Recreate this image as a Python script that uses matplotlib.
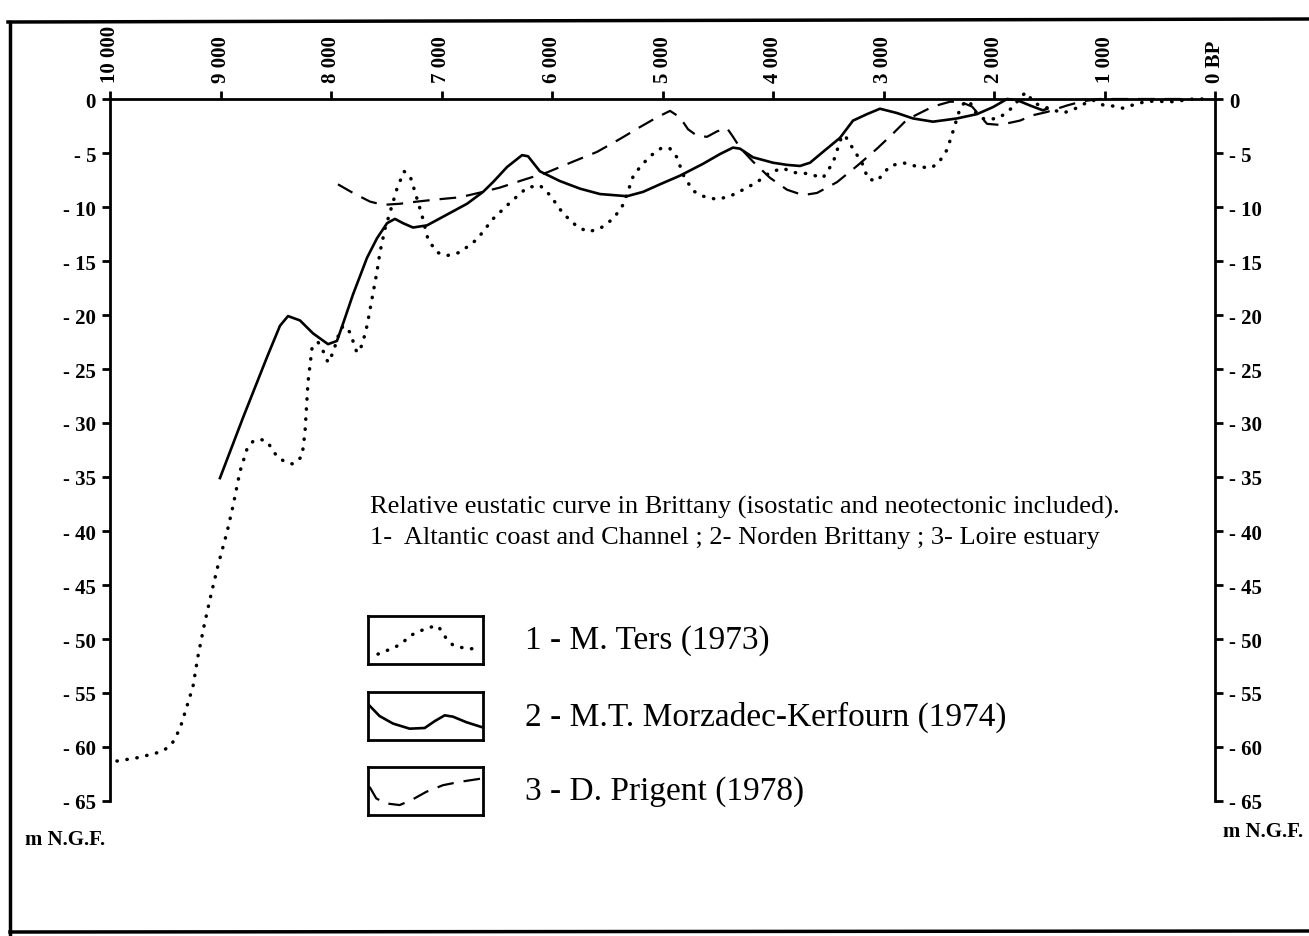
import matplotlib.pyplot as plt
from matplotlib.lines import Line2D

# ---- data : age (years BP) / level (m N.G.F.) ----
ters_age = [9937, 9756, 9593, 9511, 9439, 9367, 9303, 9249, 9204, 9149, 9095, 9023,
            8941, 8887, 8824, 8760, 8706, 8643, 8579, 8489, 8416, 8344, 8262, 8235,
            8208, 8172, 8118, 8063, 8027, 7982, 7937, 7891, 7828, 7765, 7719, 7674,
            7629, 7584, 7557, 7511, 7466, 7403, 7339, 7285, 7240, 7176, 7122, 7041,
            6950, 6833, 6679, 6534, 6380, 6226, 6109, 6018, 5900, 5774, 5674, 5566,
            5448, 5367, 5321, 5267, 5204, 5113, 5005, 4932, 4869, 4814, 4724, 4633,
            4507, 4389, 4271, 4145, 4027, 3910, 3819, 3692, 3548, 3457, 3412, 3376,
            3348, 3276, 3195, 3140, 3059, 2941, 2824, 2715, 2579, 2507, 2425, 2371,
            2335, 2308, 2262, 2217, 2190, 2109, 2036, 1946, 1828, 1747, 1701, 1647,
            1584, 1466, 1376, 1285, 1195, 1104, 1014, 923, 833, 742, 615, 380, 199, 45]
ters_level = [-61.3, -61.0, -60.6, -60.3, -59.7, -58.3, -56.2, -54.4, -51.6, -48.8, -46.3, -43.2,
              -40.1, -37.7, -34.5, -32.4, -31.7, -31.5, -31.7, -33.1, -33.6, -33.8, -33.1, -30.8,
              -26.2, -23.1, -22.5, -23.5, -24.4, -23.5, -22.0, -21.0, -21.6, -23.5, -22.8, -21.0,
              -18.5, -16.0, -14.2, -12.0, -10.5, -8.3, -6.7, -7.1, -8.6, -10.8, -13.0, -14.2,
              -14.5, -14.2, -13.0, -11.1, -9.6, -8.2, -8.0, -8.9, -10.6, -11.8, -12.3, -12.0,
              -11.1, -10.0, -8.8, -7.2, -6.3, -5.3, -4.5, -4.6, -5.4, -7.0, -8.5, -9.0,
              -9.3, -9.0, -8.4, -7.7, -6.8, -6.4, -6.8, -6.9, -7.3, -5.9, -4.5, -3.4,
              -3.4, -4.6, -5.9, -7.4, -7.6, -6.2, -5.9, -6.2, -6.4, -6.0, -4.7, -3.0,
              -1.8, -0.9, -0.25, -0.25, -1.0, -1.8, -1.9, -1.7, -0.75, 0.35, 0.6, -0.3,
              -0.6, -1.0, -1.3, -1.0, -0.5, -0.1, -0.55, -0.65, -0.85, -0.55, -0.2, -0.25, 0.0, 0.0]

morz_age = [9005, 8796, 8579, 8462, 8389, 8281, 8163, 8027, 7946, 7891, 7801, 7674,
            7584, 7493, 7421, 7348, 7258, 7131, 6950, 6769, 6624, 6534, 6407, 6271,
            6217, 6109, 5928, 5747, 5566, 5321, 5176, 5023, 4842, 4633, 4480, 4362,
            4299, 4181, 4000, 3873, 3756, 3665, 3548, 3394, 3276, 3149, 3032, 2878,
            2733, 2552, 2335, 2154, 2009, 1882, 1792, 1674, 1557, 1520]
morz_level = [-35.1, -29.5, -23.9, -21.0, -20.1, -20.5, -21.7, -22.7, -22.4, -20.8, -18.1, -14.7,
              -12.9, -11.5, -11.1, -11.5, -11.9, -11.7, -10.7, -9.7, -8.6, -7.7, -6.3, -5.2,
              -5.3, -6.7, -7.6, -8.3, -8.8, -9.0, -8.6, -7.9, -7.1, -6.0, -5.1, -4.5,
              -4.6, -5.4, -5.9, -6.1, -6.2, -5.9, -4.9, -3.6, -2.0, -1.4, -0.9, -1.3,
              -1.8, -2.1, -1.8, -1.4, -0.75, 0.0, -0.1, -0.6, -1.05, -0.9]

prig_age = [7937, 7801, 7647, 7529, 7376, 7222, 7041, 6833, 6624, 6471, 6262, 6045,
            5810, 5593, 5385, 5204, 5050, 4932, 4842, 4769, 4688, 4597, 4507, 4416,
            4362, 4299, 4181, 4027, 3873, 3729, 3602, 3421, 3240, 3059, 2914, 2787,
            2670, 2552, 2398, 2308, 2199, 2063, 1946, 1765, 1647, 1520, 1339, 1195,
            1041, 860, 588, 226]
prig_level = [-7.9, -8.7, -9.5, -9.8, -9.7, -9.5, -9.3, -9.1, -8.6, -8.2, -7.5, -6.8,
              -5.8, -4.9, -3.7, -2.6, -1.7, -1.1, -1.7, -2.8, -3.4, -3.5, -3.0, -2.7,
              -3.5, -4.5, -5.8, -7.3, -8.4, -8.9, -8.7, -7.7, -6.2, -4.6, -3.2, -1.9,
              -1.3, -0.7, -0.25, -0.25, -0.7, -2.3, -2.4, -2.0, -1.5, -1.2, -0.6, -0.2,
              0.0, 0.0, 0.0, 0.0]

# small sketches drawn inside the legend boxes (box units 0..1)
icon_ters_x = [0.087, 0.159, 0.232, 0.304, 0.362, 0.443, 0.522, 0.609, 0.681, 0.739, 0.812, 0.884, 0.957]
icon_ters_y = [0.207, 0.276, 0.345, 0.448, 0.586, 0.676, 0.759, 0.793, 0.531, 0.393, 0.345, 0.310, 0.345]
icon_morz_x = [0.014, 0.10, 0.217, 0.362, 0.493, 0.58, 0.667, 0.739, 0.855, 0.986]
icon_morz_y = [0.714, 0.50, 0.343, 0.236, 0.25, 0.393, 0.514, 0.486, 0.371, 0.271]
icon_prig_x = [0.014, 0.072, 0.159, 0.275, 0.377, 0.507, 0.652, 0.797, 0.986]
icon_prig_y = [0.586, 0.345, 0.241, 0.207, 0.310, 0.483, 0.621, 0.690, 0.759]

x_ticks = [10000, 9000, 8000, 7000, 6000, 5000, 4000, 3000, 2000, 1000, 0]
x_labels = ["10 000", "9 000", "8 000", "7 000", "6 000", "5 000",
            "4 000", "3 000", "2 000", "1 000", "0 BP"]
y_ticks = list(range(0, -70, -5))
y_labels = ["0" if v == 0 else "- %d" % abs(v) for v in y_ticks]

legend_labels = ["1 - M. Ters (1973)", "2 - M.T. Morzadec-Kerfourn (1974)", "3 - D. Prigent (1978)"]
title_lines = ["Relative eustatic curve in Brittany (isostatic and neotectonic included).",
               "1-  Altantic coast and Channel ; 2- Norden Brittany ; 3- Loire estuary"]

plt.rcParams['font.family'] = ['Liberation Serif', 'DejaVu Serif']

W, H = 1309, 937
fig = plt.figure(figsize=(W / 100, H / 100), dpi=100)

dotted = dict(color='black', lw=2.5, ls=(0, (0.1, 2.8)), dash_capstyle='round')
solid = dict(color='black', lw=1.9, ls='-')
dashed = dict(color='black', lw=1.6, ls=(0, (7.5, 4.5)))

ax = fig.add_axes([110 / W, 1 - 802 / H, 1105 / W, 702 / H])
ax.plot(ters_age, ters_level, clip_on=False, **dotted)
ax.plot(morz_age, morz_level, clip_on=False, **solid)
ax.plot(prig_age, prig_level, clip_on=False, **dashed)

ax.set_xlim(10000, 0)
ax.set_ylim(-65, 0)
ax.spines['bottom'].set_visible(False)
for s in ['top', 'left', 'right']:
    ax.spines[s].set_linewidth(2)

ax.xaxis.tick_top()
ax.set_xticks(x_ticks)
ax.set_xticklabels(x_labels, fontweight='bold')
ax.tick_params(axis='x', direction='out', length=6, width=2, pad=6,
               labelrotation=90, labelsize=15)
ax.set_yticks(y_ticks)
ax.set_yticklabels(y_labels, fontweight='bold')
ax.tick_params(axis='y', left=True, right=True, labelleft=True, labelright=True,
               direction='out', length=6, width=2, pad=4, labelsize=15)
for t in ax.yaxis.get_major_ticks():
    t.label2.set_fontweight('bold')

fig.text(25 / W, 1 - 840 / H, "m N.G.F.", fontsize=15, fontweight='bold', va='center')
fig.text(1223 / W, 1 - 832 / H, "m N.G.F.", fontsize=15, fontweight='bold', va='center')

fig.text(370 / W, 1 - 507 / H, title_lines[0], fontsize=19, va='center')
fig.text(370 / W, 1 - 538 / H, title_lines[1], fontsize=19, va='center')

# legend boxes
box_tops = [617, 693, 768]
icons = [(icon_ters_x, icon_ters_y, dotted), (icon_morz_x, icon_morz_y, solid),
         (icon_prig_x, icon_prig_y, dashed)]
for top, (ix, iy, st), lab in zip(box_tops, icons, legend_labels):
    bax = fig.add_axes([368 / W, 1 - (top + 48) / H, 115 / W, 48 / H])
    bax.plot(ix, iy, **st)
    bax.set_xlim(0, 1)
    bax.set_ylim(0, 1)
    bax.set_xticks([])
    bax.set_yticks([])
    for s in bax.spines.values():
        s.set_linewidth(2)
    fig.text(525 / W, 1 - (top + 24) / H, lab, fontsize=24, va='center')

# scanned page frame
fig.add_artist(Line2D([8 / W, 1], [1 - 23 / H, 1 - 20 / H], color='black', lw=2.5))
fig.add_artist(Line2D([10 / W, 10 / W], [1 - 23 / H, 0], color='black', lw=2.5))
fig.add_artist(Line2D([10 / W, 1], [1 - 933 / H, 1 - 932 / H], color='black', lw=2.5))

fig.savefig('out.png', dpi=100)
